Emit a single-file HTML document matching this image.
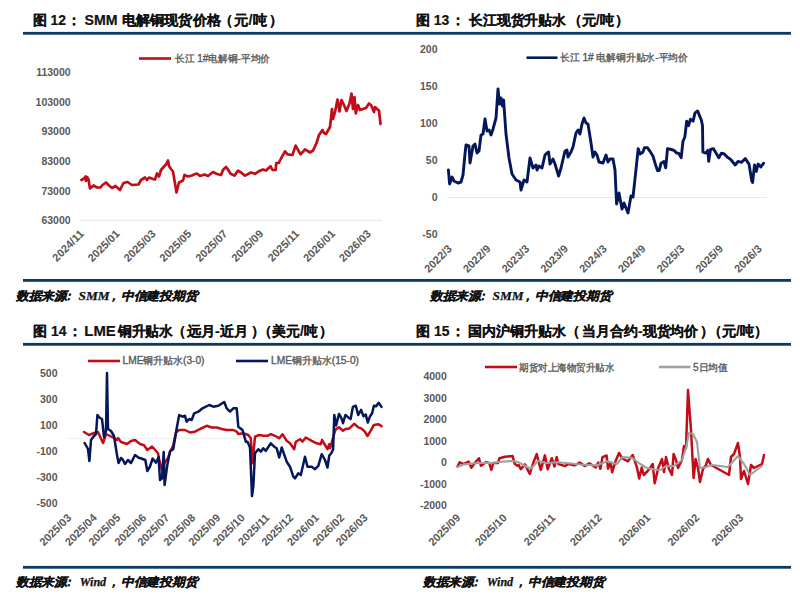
<!DOCTYPE html><html><head><meta charset="utf-8"><style>html,body{margin:0;padding:0;background:#fff;width:800px;height:601px;overflow:hidden}svg{display:block}</style></head><body><svg width="800" height="601" viewBox="0 0 800 601">
<rect width="800" height="601" fill="#fff"/>
<rect x="23" y="31.9" width="768" height="2.8" fill="#0d3964"/>
<rect x="23" y="279.0" width="768" height="2.8" fill="#0d3964"/>
<rect x="23" y="342.90000000000003" width="768" height="2.8" fill="#0d3964"/>
<rect x="23" y="565.9" width="768" height="2.8" fill="#0d3964"/>
<text y="25.1" font-size="14" fill="#111" font-weight="bold" font-family='"Liberation Sans", sans-serif' stroke="#111" stroke-width="0.2"><tspan x="32.7" textLength="14" lengthAdjust="spacingAndGlyphs">图</tspan><tspan x="50.6" textLength="15.5" lengthAdjust="spacingAndGlyphs">12</tspan><tspan x="66.6" textLength="14" lengthAdjust="spacingAndGlyphs">：</tspan><tspan x="84.5" textLength="33" lengthAdjust="spacingAndGlyphs">SMM</tspan><tspan x="121.6" textLength="99.5" lengthAdjust="spacingAndGlyphs">电解铜现货价格</tspan><tspan x="219.3" textLength="14" lengthAdjust="spacingAndGlyphs">（</tspan><tspan x="234.3" textLength="32.5" lengthAdjust="spacingAndGlyphs">元/吨</tspan><tspan x="268.5" textLength="14" lengthAdjust="spacingAndGlyphs">）</tspan></text>
<text y="25.1" font-size="14" fill="#111" font-weight="bold" font-family='"Liberation Sans", sans-serif' stroke="#111" stroke-width="0.2"><tspan x="415.8" textLength="14" lengthAdjust="spacingAndGlyphs">图</tspan><tspan x="433.8" textLength="15.5" lengthAdjust="spacingAndGlyphs">13</tspan><tspan x="450.6" textLength="14" lengthAdjust="spacingAndGlyphs">：</tspan><tspan x="469" textLength="97" lengthAdjust="spacingAndGlyphs">长江现货升贴水</tspan><tspan x="567.6" textLength="14" lengthAdjust="spacingAndGlyphs">（</tspan><tspan x="581.5" textLength="32.5" lengthAdjust="spacingAndGlyphs">元/吨</tspan><tspan x="614.75" textLength="14" lengthAdjust="spacingAndGlyphs">）</tspan></text>
<text y="335.9" font-size="14" fill="#111" font-weight="bold" font-family='"Liberation Sans", sans-serif' stroke="#111" stroke-width="0.2"><tspan x="32.8" textLength="14" lengthAdjust="spacingAndGlyphs">图</tspan><tspan x="51" textLength="15.5" lengthAdjust="spacingAndGlyphs">14</tspan><tspan x="67.5" textLength="14" lengthAdjust="spacingAndGlyphs">：</tspan><tspan x="84.3" textLength="31.5" lengthAdjust="spacingAndGlyphs">LME</tspan><tspan x="117.8" textLength="55" lengthAdjust="spacingAndGlyphs">铜升贴水</tspan><tspan x="172.25" textLength="14" lengthAdjust="spacingAndGlyphs">（</tspan><tspan x="186.5" textLength="62" lengthAdjust="spacingAndGlyphs">远月-近月</tspan><tspan x="250.5" textLength="14" lengthAdjust="spacingAndGlyphs">）</tspan><tspan x="257.6" textLength="14" lengthAdjust="spacingAndGlyphs">（</tspan><tspan x="272.3" textLength="45.5" lengthAdjust="spacingAndGlyphs">美元/吨</tspan><tspan x="318.7" textLength="14" lengthAdjust="spacingAndGlyphs">）</tspan></text>
<text y="335.9" font-size="14" fill="#111" font-weight="bold" font-family='"Liberation Sans", sans-serif' stroke="#111" stroke-width="0.2"><tspan x="416" textLength="14" lengthAdjust="spacingAndGlyphs">图</tspan><tspan x="434" textLength="15.5" lengthAdjust="spacingAndGlyphs">15</tspan><tspan x="450.5" textLength="14" lengthAdjust="spacingAndGlyphs">：</tspan><tspan x="468" textLength="98" lengthAdjust="spacingAndGlyphs">国内沪铜升贴水</tspan><tspan x="566.1" textLength="14" lengthAdjust="spacingAndGlyphs">（</tspan><tspan x="582.3" textLength="116" lengthAdjust="spacingAndGlyphs">当月合约-现货均价</tspan><tspan x="700.35" textLength="14" lengthAdjust="spacingAndGlyphs">）</tspan><tspan x="707.5" textLength="14" lengthAdjust="spacingAndGlyphs">（</tspan><tspan x="721.8" textLength="32.5" lengthAdjust="spacingAndGlyphs">元/吨</tspan><tspan x="754" textLength="14" lengthAdjust="spacingAndGlyphs">）</tspan></text>
<text transform="translate(16,299.5) skewX(-14)" font-size="12" fill="#111" font-weight="bold" font-family='"Liberation Sans", sans-serif' stroke="#111" stroke-width="0.25"><tspan x="0.00" textLength="50.5" lengthAdjust="spacingAndGlyphs">数据来源</tspan><tspan x="47.50" textLength="11" lengthAdjust="spacingAndGlyphs">：</tspan><tspan x="92.00" textLength="11" lengthAdjust="spacingAndGlyphs">，</tspan><tspan x="105.00" textLength="76.5" lengthAdjust="spacingAndGlyphs">中信建投期货</tspan></text><text x="78.5" y="299.5" textLength="31" lengthAdjust="spacingAndGlyphs" font-size="12" fill="#111" font-weight="bold" font-style="italic" font-family='"Liberation Serif", serif' stroke="#111" stroke-width="0.25">SMM</text>
<text transform="translate(430,299.5) skewX(-14)" font-size="12" fill="#111" font-weight="bold" font-family='"Liberation Sans", sans-serif' stroke="#111" stroke-width="0.25"><tspan x="0.00" textLength="50.5" lengthAdjust="spacingAndGlyphs">数据来源</tspan><tspan x="47.50" textLength="11" lengthAdjust="spacingAndGlyphs">：</tspan><tspan x="92.00" textLength="11" lengthAdjust="spacingAndGlyphs">，</tspan><tspan x="105.00" textLength="76.5" lengthAdjust="spacingAndGlyphs">中信建投期货</tspan></text><text x="492.5" y="299.5" textLength="31" lengthAdjust="spacingAndGlyphs" font-size="12" fill="#111" font-weight="bold" font-style="italic" font-family='"Liberation Serif", serif' stroke="#111" stroke-width="0.25">SMM</text>
<text transform="translate(16,585.5) skewX(-14)" font-size="12" fill="#111" font-weight="bold" font-family='"Liberation Sans", sans-serif' stroke="#111" stroke-width="0.25"><tspan x="0.00" textLength="50.5" lengthAdjust="spacingAndGlyphs">数据来源</tspan><tspan x="47.50" textLength="11" lengthAdjust="spacingAndGlyphs">：</tspan><tspan x="92.00" textLength="11" lengthAdjust="spacingAndGlyphs">，</tspan><tspan x="105.00" textLength="76.5" lengthAdjust="spacingAndGlyphs">中信建投期货</tspan></text><text x="79.7" y="585.5" textLength="26.5" lengthAdjust="spacingAndGlyphs" font-size="12" fill="#111" font-weight="bold" font-style="italic" font-family='"Liberation Serif", serif' stroke="#111" stroke-width="0.25">Wind</text>
<text transform="translate(423,585.5) skewX(-14)" font-size="12" fill="#111" font-weight="bold" font-family='"Liberation Sans", sans-serif' stroke="#111" stroke-width="0.25"><tspan x="0.00" textLength="50.5" lengthAdjust="spacingAndGlyphs">数据来源</tspan><tspan x="47.50" textLength="11" lengthAdjust="spacingAndGlyphs">：</tspan><tspan x="92.00" textLength="11" lengthAdjust="spacingAndGlyphs">，</tspan><tspan x="105.00" textLength="76.5" lengthAdjust="spacingAndGlyphs">中信建投期货</tspan></text><text x="486.7" y="585.5" textLength="26.5" lengthAdjust="spacingAndGlyphs" font-size="12" fill="#111" font-weight="bold" font-style="italic" font-family='"Liberation Serif", serif' stroke="#111" stroke-width="0.25">Wind</text>
<text x="70.6" y="75.89999999999999" font-size="10.5" fill="#595959" text-anchor="end" font-weight="bold" font-style="normal" font-family='"Liberation Sans", sans-serif' >113000</text>
<text x="70.6" y="105.6" font-size="10.5" fill="#595959" text-anchor="end" font-weight="bold" font-style="normal" font-family='"Liberation Sans", sans-serif' >103000</text>
<text x="70.6" y="135.3" font-size="10.5" fill="#595959" text-anchor="end" font-weight="bold" font-style="normal" font-family='"Liberation Sans", sans-serif' >93000</text>
<text x="70.6" y="165.0" font-size="10.5" fill="#595959" text-anchor="end" font-weight="bold" font-style="normal" font-family='"Liberation Sans", sans-serif' >83000</text>
<text x="70.6" y="194.7" font-size="10.5" fill="#595959" text-anchor="end" font-weight="bold" font-style="normal" font-family='"Liberation Sans", sans-serif' >73000</text>
<text x="70.6" y="224.4" font-size="10.5" fill="#595959" text-anchor="end" font-weight="bold" font-style="normal" font-family='"Liberation Sans", sans-serif' >63000</text>
<line x1="80.5" y1="220.3" x2="382.5" y2="220.3" stroke="#e3e3e3" stroke-width="1"/>
<text transform="translate(84.5,234.5) rotate(-45)" x="0" y="0" font-size="11" fill="#595959" text-anchor="end" font-weight="bold" font-family='"Liberation Sans", sans-serif'>2024/11</text>
<text transform="translate(120.4,234.5) rotate(-45)" x="0" y="0" font-size="11" fill="#595959" text-anchor="end" font-weight="bold" font-family='"Liberation Sans", sans-serif'>2025/01</text>
<text transform="translate(156.3,234.5) rotate(-45)" x="0" y="0" font-size="11" fill="#595959" text-anchor="end" font-weight="bold" font-family='"Liberation Sans", sans-serif'>2025/03</text>
<text transform="translate(192.2,234.5) rotate(-45)" x="0" y="0" font-size="11" fill="#595959" text-anchor="end" font-weight="bold" font-family='"Liberation Sans", sans-serif'>2025/05</text>
<text transform="translate(228.1,234.5) rotate(-45)" x="0" y="0" font-size="11" fill="#595959" text-anchor="end" font-weight="bold" font-family='"Liberation Sans", sans-serif'>2025/07</text>
<text transform="translate(264.0,234.5) rotate(-45)" x="0" y="0" font-size="11" fill="#595959" text-anchor="end" font-weight="bold" font-family='"Liberation Sans", sans-serif'>2025/09</text>
<text transform="translate(299.9,234.5) rotate(-45)" x="0" y="0" font-size="11" fill="#595959" text-anchor="end" font-weight="bold" font-family='"Liberation Sans", sans-serif'>2025/11</text>
<text transform="translate(335.79999999999995,234.5) rotate(-45)" x="0" y="0" font-size="11" fill="#595959" text-anchor="end" font-weight="bold" font-family='"Liberation Sans", sans-serif'>2026/01</text>
<text transform="translate(371.7,234.5) rotate(-45)" x="0" y="0" font-size="11" fill="#595959" text-anchor="end" font-weight="bold" font-family='"Liberation Sans", sans-serif'>2026/03</text>
<line x1="139" y1="58.5" x2="171" y2="58.5" stroke="#c20c18" stroke-width="2.6"/>
<text x="175" y="62" font-size="10.3" fill="#595959" text-anchor="start" font-weight="normal" font-style="normal" font-family='"Liberation Sans", sans-serif' textLength="95" lengthAdjust="spacingAndGlyphs" stroke="#595959" stroke-width="0.35">长江 1#电解铜-平均价</text>
<polyline points="81.5,180 84,178.5 85.5,176.5 86,181 87,177 88.5,179.5 90,188.5 93.5,185.5 97,187.5 100.5,187.5 102.5,185 106,182.5 109,185.5 112,188 115.5,186 120,190 123.5,183 127.5,182 132,185 138.5,184.5 141,180 145,177.5 147,180 149,177.5 153,179 155,179.5 157,173.5 159,176.5 161,170 164.5,166 166,164.5 168,160.5 169,166 171,169 173,171.5 176.5,192.5 179,182.5 183,180.5 184.5,175 188,176.5 192,175.5 194,174.5 197,173.5 200,176 204.5,174.5 208,176 213,172 217,174 221,175 223,170 226,167 227.5,168.8 230.6,173.8 234.4,175.6 238,170.6 241,172.5 245,175.6 251,172.5 255,173.8 258.8,171.3 263,169.4 266,170.6 270.6,166.3 272.5,170 275.6,170 276.3,163 278.8,163 281.3,158 285,151.3 287.5,154.4 292.5,155 295.6,145.6 300.6,154.4 305,149.4 310,152.5 313,150.6 316.5,143 319,135 322.5,130 324,133 326,134 330,127 332,109 333,119 335,112 337.5,99.5 339.5,111.5 341.5,100 344,105 346.5,111 349.5,103.5 351.5,93.5 353,109 354.5,97 355.8,113.5 358,105 360,110 366,108 369,103.5 371,105 374,112 375,107 377,109 379,110.5 380.5,124" fill="none" stroke="#c20c18" stroke-width="2.7" stroke-linejoin="round" stroke-linecap="round"/>
<text x="437.5" y="53.1" font-size="10.5" fill="#595959" text-anchor="end" font-weight="bold" font-style="normal" font-family='"Liberation Sans", sans-serif' >200</text>
<text x="437.5" y="90.1" font-size="10.5" fill="#595959" text-anchor="end" font-weight="bold" font-style="normal" font-family='"Liberation Sans", sans-serif' >150</text>
<text x="437.5" y="127.1" font-size="10.5" fill="#595959" text-anchor="end" font-weight="bold" font-style="normal" font-family='"Liberation Sans", sans-serif' >100</text>
<text x="437.5" y="164.1" font-size="10.5" fill="#595959" text-anchor="end" font-weight="bold" font-style="normal" font-family='"Liberation Sans", sans-serif' >50</text>
<text x="437.5" y="201.1" font-size="10.5" fill="#595959" text-anchor="end" font-weight="bold" font-style="normal" font-family='"Liberation Sans", sans-serif' >0</text>
<text x="437.5" y="238.1" font-size="10.5" fill="#595959" text-anchor="end" font-weight="bold" font-style="normal" font-family='"Liberation Sans", sans-serif' >-50</text>
<line x1="447.5" y1="197.5" x2="767" y2="197.5" stroke="#e6e6e6" stroke-width="1"/>
<text transform="translate(452.5,249.5) rotate(-45)" x="0" y="0" font-size="11" fill="#595959" text-anchor="end" font-weight="bold" font-family='"Liberation Sans", sans-serif'>2022/3</text>
<text transform="translate(491.25,249.5) rotate(-45)" x="0" y="0" font-size="11" fill="#595959" text-anchor="end" font-weight="bold" font-family='"Liberation Sans", sans-serif'>2022/9</text>
<text transform="translate(530.0,249.5) rotate(-45)" x="0" y="0" font-size="11" fill="#595959" text-anchor="end" font-weight="bold" font-family='"Liberation Sans", sans-serif'>2023/3</text>
<text transform="translate(568.75,249.5) rotate(-45)" x="0" y="0" font-size="11" fill="#595959" text-anchor="end" font-weight="bold" font-family='"Liberation Sans", sans-serif'>2023/9</text>
<text transform="translate(607.5,249.5) rotate(-45)" x="0" y="0" font-size="11" fill="#595959" text-anchor="end" font-weight="bold" font-family='"Liberation Sans", sans-serif'>2024/3</text>
<text transform="translate(646.25,249.5) rotate(-45)" x="0" y="0" font-size="11" fill="#595959" text-anchor="end" font-weight="bold" font-family='"Liberation Sans", sans-serif'>2024/9</text>
<text transform="translate(685.0,249.5) rotate(-45)" x="0" y="0" font-size="11" fill="#595959" text-anchor="end" font-weight="bold" font-family='"Liberation Sans", sans-serif'>2025/3</text>
<text transform="translate(723.75,249.5) rotate(-45)" x="0" y="0" font-size="11" fill="#595959" text-anchor="end" font-weight="bold" font-family='"Liberation Sans", sans-serif'>2025/9</text>
<text transform="translate(762.5,249.5) rotate(-45)" x="0" y="0" font-size="11" fill="#595959" text-anchor="end" font-weight="bold" font-family='"Liberation Sans", sans-serif'>2026/3</text>
<line x1="526.5" y1="57.7" x2="557.5" y2="57.7" stroke="#04175a" stroke-width="2.6"/>
<text x="560" y="61" font-size="10.3" fill="#595959" text-anchor="start" font-weight="normal" font-style="normal" font-family='"Liberation Sans", sans-serif' textLength="128" lengthAdjust="spacingAndGlyphs" stroke="#595959" stroke-width="0.35">长江 1# 电解铜升贴水-平均价</text>
<polyline points="448.4,170 449.6,184 452,177 454,181 458,183 461,182 463,175 465,154 466,145 469,146 470,163 473,146 475,144 477,153 479,151 481,135 483,134 485,119 487,131 489,130 491,135 493,129 496,118 498,89 499.6,104 501,98 502.4,106 503.6,100 506,134 509,158 512,174 516,180 520,182 521,190 524,180 527,182 530,158 533,168 536,165 537,170 539,166 542,168 545,155 547,153 548.6,152 550,164 553,159 555,164 558.6,176 561,168 565,151 567,150 568,157 571,152 573,147 576,133 578,130 580,134 582,124 584,118 586,123 588,124 591,143 593,157 595,152 597,155 599,162 603,163 606,155 608,162 610,159 613,159 615,170 616.6,204 619,193 622,209 624,203 628,213 631,196 633,197 635.5,174.2 638.2,148.6 640,154 642.8,152.2 644.6,147.6 647.4,147.6 650,151.3 652.9,155.9 655.6,165 657.5,170.5 659.3,170.5 661,163.2 663.9,161.4 665.7,167.8 667.5,148.6 671.2,149.5 674,150.4 676.7,153.1 678.5,153.1 681.2,157.7 683,141.2 684.9,136.7 686.7,121.1 688.6,125.7 690.4,119.3 693.1,121.1 695,112.9 697.7,111 699.5,115.6 701.4,120.2 702.5,125.7 702.9,152.2 706,153.1 707.8,150.4 708.7,161.4 710.5,149.5 713.3,148.6 716,153.1 718.8,157.7 721.5,153.1 724.3,154 727,156.8 730.7,159.5 735.2,165 738,161.4 741.6,162.3 745.3,158.6 749,164.1 751.7,180.6 752.6,182.4 754.5,165 756.3,171.4 758.1,164.1 760.9,166.9 763.6,163.2" fill="none" stroke="#04175a" stroke-width="2.9" stroke-linejoin="round" stroke-linecap="round"/>
<text x="57.5" y="376.70000000000005" font-size="10.5" fill="#595959" text-anchor="end" font-weight="bold" font-style="normal" font-family='"Liberation Sans", sans-serif' >500</text>
<text x="57.5" y="402.80000000000007" font-size="10.5" fill="#595959" text-anchor="end" font-weight="bold" font-style="normal" font-family='"Liberation Sans", sans-serif' >300</text>
<text x="57.5" y="428.90000000000003" font-size="10.5" fill="#595959" text-anchor="end" font-weight="bold" font-style="normal" font-family='"Liberation Sans", sans-serif' >100</text>
<text x="57.5" y="455.00000000000006" font-size="10.5" fill="#595959" text-anchor="end" font-weight="bold" font-style="normal" font-family='"Liberation Sans", sans-serif' >-100</text>
<text x="57.5" y="481.1" font-size="10.5" fill="#595959" text-anchor="end" font-weight="bold" font-style="normal" font-family='"Liberation Sans", sans-serif' >-300</text>
<text x="57.5" y="507.20000000000005" font-size="10.5" fill="#595959" text-anchor="end" font-weight="bold" font-style="normal" font-family='"Liberation Sans", sans-serif' >-500</text>
<line x1="68" y1="438.6" x2="382" y2="438.6" stroke="#ededed" stroke-width="1"/>
<text transform="translate(72,518.5) rotate(-45)" x="0" y="0" font-size="11" fill="#595959" text-anchor="end" font-weight="bold" font-family='"Liberation Sans", sans-serif'>2025/03</text>
<text transform="translate(97.5,518.5) rotate(-45)" x="0" y="0" font-size="11" fill="#595959" text-anchor="end" font-weight="bold" font-family='"Liberation Sans", sans-serif'>2025/04</text>
<text transform="translate(121,518.5) rotate(-45)" x="0" y="0" font-size="11" fill="#595959" text-anchor="end" font-weight="bold" font-family='"Liberation Sans", sans-serif'>2025/05</text>
<text transform="translate(147,518.5) rotate(-45)" x="0" y="0" font-size="11" fill="#595959" text-anchor="end" font-weight="bold" font-family='"Liberation Sans", sans-serif'>2025/06</text>
<text transform="translate(170,518.5) rotate(-45)" x="0" y="0" font-size="11" fill="#595959" text-anchor="end" font-weight="bold" font-family='"Liberation Sans", sans-serif'>2025/07</text>
<text transform="translate(196,518.5) rotate(-45)" x="0" y="0" font-size="11" fill="#595959" text-anchor="end" font-weight="bold" font-family='"Liberation Sans", sans-serif'>2025/08</text>
<text transform="translate(221,518.5) rotate(-45)" x="0" y="0" font-size="11" fill="#595959" text-anchor="end" font-weight="bold" font-family='"Liberation Sans", sans-serif'>2025/09</text>
<text transform="translate(245.5,518.5) rotate(-45)" x="0" y="0" font-size="11" fill="#595959" text-anchor="end" font-weight="bold" font-family='"Liberation Sans", sans-serif'>2025/10</text>
<text transform="translate(270.2,518.5) rotate(-45)" x="0" y="0" font-size="11" fill="#595959" text-anchor="end" font-weight="bold" font-family='"Liberation Sans", sans-serif'>2025/11</text>
<text transform="translate(294,518.5) rotate(-45)" x="0" y="0" font-size="11" fill="#595959" text-anchor="end" font-weight="bold" font-family='"Liberation Sans", sans-serif'>2025/12</text>
<text transform="translate(319.7,518.5) rotate(-45)" x="0" y="0" font-size="11" fill="#595959" text-anchor="end" font-weight="bold" font-family='"Liberation Sans", sans-serif'>2026/01</text>
<text transform="translate(345,518.5) rotate(-45)" x="0" y="0" font-size="11" fill="#595959" text-anchor="end" font-weight="bold" font-family='"Liberation Sans", sans-serif'>2026/02</text>
<text transform="translate(368.4,518.5) rotate(-45)" x="0" y="0" font-size="11" fill="#595959" text-anchor="end" font-weight="bold" font-family='"Liberation Sans", sans-serif'>2026/03</text>
<line x1="88" y1="361" x2="120" y2="361" stroke="#c20c18" stroke-width="2.6"/>
<text x="122.5" y="364.3" font-size="10.3" fill="#595959" text-anchor="start" font-weight="normal" font-style="normal" font-family='"Liberation Sans", sans-serif' textLength="82" lengthAdjust="spacingAndGlyphs" stroke="#595959" stroke-width="0.35">LME铜升贴水(3-0)</text>
<line x1="236" y1="361" x2="268" y2="361" stroke="#04175a" stroke-width="2.6"/>
<text x="271" y="364.3" font-size="10.3" fill="#595959" text-anchor="start" font-weight="normal" font-style="normal" font-family='"Liberation Sans", sans-serif' textLength="88" lengthAdjust="spacingAndGlyphs" stroke="#595959" stroke-width="0.35">LME铜升贴水(15-0)</text>
<polyline points="84,432 89,435 94,433 98,432 103,443 106,434 110,436 114,438 117,440 118,438 121,442 127,444 131,441 135,440 140,444 144,445.3 147.3,450 152,446.6 155.3,450 158,453.2 159.3,460 162,470 165,462 168,458 170.6,450.6 173,446 176,432.6 179,430 185,430 190,432.5 195,431.7 200,429 206.7,425.8 211.7,427.5 216.7,427.5 221.7,429 226.7,430 233.3,430 236.7,431.7 238.3,434 243.3,433.3 248.3,435 250.8,438.3 252.5,463.3 255,436.7 259.2,435 263.3,435.8 267.5,435.8 270.8,434.2 275,435.8 279.2,438.3 282.5,434.2 286.7,440.8 290,443.3 294.2,449.2 295.8,441.7 300,439.2 302.5,441.7 305.8,437.5 311.7,440.8 316.7,443.3 320.8,444.2 322,440 325,445 327.5,449.2 329.2,444.2 330.2,448.2 333.7,435.4 335.5,429.6 339,427.3 343,430.7 345.4,429 349.4,428.4 354.1,423.8 358.2,427.3 361.1,428.4 364.6,431.3 367.5,436 371,430.2 373.9,424.9 378.6,424.3 381.5,426.1" fill="none" stroke="#c20c18" stroke-width="2.5" stroke-linejoin="round" stroke-linecap="round"/>
<polyline points="84.6,443 88,449 89.4,461 91,440 94,436 96,434 97.4,415 100,418 102,419 104,437 106,431 107,373 108,429 111,431 114,436 117,455 118.6,463 121,458 123,460 125,464 128,460 131,463 135,455 139,458 140,458 145.3,460 147.3,471 150,466.5 152.6,458.6 156,462.6 158.6,457.2 160,480 162,478.5 163.7,452 164.6,485 167.3,465 170,451.3 173.2,449.3 176.7,428.3 179.2,415 182.5,416.7 185,415.8 186.7,421.7 189.2,419 191.7,420 194.2,413.3 198.3,411.7 202.5,408.3 209.2,405 213.3,406.7 218.3,405.8 224.2,402 226.7,408.3 230,411.7 233.3,408.3 236.7,408.3 238.3,426.7 242.5,430 245.8,441.7 247.5,441.7 250,447.5 252,496 253.3,486.7 255,453.3 258.3,449.2 260.8,451.7 263.3,448.3 265.8,450.8 270.8,443.3 274.2,446.7 276.7,448.3 279.2,457.5 281.7,447.5 286.7,461.7 290,466.7 293.3,476.7 295,478.3 298.3,473.3 300.8,475 305,456.7 307.5,466.7 311.7,466.7 315,469.2 318.3,465.8 321.7,454.2 325,460 327.5,467.5 329.2,455.8 331.7,452.5 333.1,449.4 334.3,415 336.1,425.5 339,413.9 341.3,417.9 343,423.2 345.4,415 348.3,417.4 350.6,419.1 352.9,406.9 355.8,405.7 358.2,415 361.1,409.8 363.4,416.2 365.7,414.4 367.8,422.6 369.8,416.8 372.1,413.3 373.9,405.7 376.2,406.3 378.6,402.8 381.5,406.9" fill="none" stroke="#04175a" stroke-width="2.5" stroke-linejoin="round" stroke-linecap="round"/>
<text x="446.8" y="380.1" font-size="10.5" fill="#595959" text-anchor="end" font-weight="bold" font-style="normal" font-family='"Liberation Sans", sans-serif' >4000</text>
<text x="446.8" y="401.6" font-size="10.5" fill="#595959" text-anchor="end" font-weight="bold" font-style="normal" font-family='"Liberation Sans", sans-serif' >3000</text>
<text x="446.8" y="423.1" font-size="10.5" fill="#595959" text-anchor="end" font-weight="bold" font-style="normal" font-family='"Liberation Sans", sans-serif' >2000</text>
<text x="446.8" y="444.6" font-size="10.5" fill="#595959" text-anchor="end" font-weight="bold" font-style="normal" font-family='"Liberation Sans", sans-serif' >1000</text>
<text x="446.8" y="466.1" font-size="10.5" fill="#595959" text-anchor="end" font-weight="bold" font-style="normal" font-family='"Liberation Sans", sans-serif' >0</text>
<text x="446.8" y="487.6" font-size="10.5" fill="#595959" text-anchor="end" font-weight="bold" font-style="normal" font-family='"Liberation Sans", sans-serif' >-1000</text>
<text x="446.8" y="509.1" font-size="10.5" fill="#595959" text-anchor="end" font-weight="bold" font-style="normal" font-family='"Liberation Sans", sans-serif' >-2000</text>
<text transform="translate(461,518.5) rotate(-45)" x="0" y="0" font-size="11" fill="#595959" text-anchor="end" font-weight="bold" font-family='"Liberation Sans", sans-serif'>2025/09</text>
<text transform="translate(507.5,518.5) rotate(-45)" x="0" y="0" font-size="11" fill="#595959" text-anchor="end" font-weight="bold" font-family='"Liberation Sans", sans-serif'>2025/10</text>
<text transform="translate(556,518.5) rotate(-45)" x="0" y="0" font-size="11" fill="#595959" text-anchor="end" font-weight="bold" font-family='"Liberation Sans", sans-serif'>2025/11</text>
<text transform="translate(602.5,518.5) rotate(-45)" x="0" y="0" font-size="11" fill="#595959" text-anchor="end" font-weight="bold" font-family='"Liberation Sans", sans-serif'>2025/12</text>
<text transform="translate(651,518.5) rotate(-45)" x="0" y="0" font-size="11" fill="#595959" text-anchor="end" font-weight="bold" font-family='"Liberation Sans", sans-serif'>2026/01</text>
<text transform="translate(700,518.5) rotate(-45)" x="0" y="0" font-size="11" fill="#595959" text-anchor="end" font-weight="bold" font-family='"Liberation Sans", sans-serif'>2026/02</text>
<text transform="translate(744,518.5) rotate(-45)" x="0" y="0" font-size="11" fill="#595959" text-anchor="end" font-weight="bold" font-family='"Liberation Sans", sans-serif'>2026/03</text>
<line x1="485" y1="367" x2="517" y2="367" stroke="#c20c18" stroke-width="2.6"/>
<text x="519" y="371" font-size="10.3" fill="#595959" text-anchor="start" font-weight="normal" font-style="normal" font-family='"Liberation Sans", sans-serif' textLength="95" lengthAdjust="spacingAndGlyphs" stroke="#595959" stroke-width="0.35">期货对上海物贸升贴水</text>
<line x1="659" y1="367" x2="690.5" y2="367" stroke="#a0a0a0" stroke-width="2.6"/>
<text x="693" y="371" font-size="10.3" fill="#595959" text-anchor="start" font-weight="normal" font-style="normal" font-family='"Liberation Sans", sans-serif' textLength="35" lengthAdjust="spacingAndGlyphs" stroke="#595959" stroke-width="0.35">5日均值</text>
<polyline points="457.6,466.5 459.6,462.3 462.4,463.7 464.4,463.7 468.6,461.6 471.3,467.8 475.4,462.3 478.9,458.2 481,465.8 485.8,462.3 489.2,463 491.3,469.9 493.3,463 498.1,463 499.5,458.2 505,456.8 512.6,456.1 514.6,463.7 517.4,465.8 518.8,465.1 520.8,469.2 525,464.4 529.8,474 533.2,463 536.7,454.1 540.8,469.9 544.9,455.4 547.7,469.2 551.8,458.2 554.5,466.5 556.7,457.1 558.4,464 565.3,466.1 568,464 574.3,465.4 579.8,462.6 584.6,466.1 589.4,463.3 595.6,467.5 598.3,462.6 600.4,468.8 602.5,457.1 606.6,455.5 608,468.8 610.7,462.6 612.1,472.3 615.5,461.3 619,453 622.4,458.5 627.9,461.3 632.7,455.1 636.8,466.8 639.2,478.5 641.7,467.5 643.7,475 647.8,470.9 652.7,464 654.7,483.3 658.2,468.1 662,459 664,472 666,457 669,469 672,475 673.6,454 676,460 678,468 682,460 684,446 686,448 688,390 691,430 693.6,478 695.6,459 698,468 700,482 703,469 706,465 708,459 711,465 729,475 731,457 734,454 738,443 740,457 741,479 744,471 748,484 751,465 754,468 762,464 764,455" fill="none" stroke="#c20c18" stroke-width="2.5" stroke-linejoin="round" stroke-linecap="round"/>
<polyline points="457.6,467 463.8,464.4 477.5,463 491.3,463 499.5,462 512,461 518.8,462.3 527,467 531,468.5 538,461 546.3,463 557.3,462.3 568.8,463.3 582.5,464.7 596.3,465.4 607.3,461.3 616.9,464 622.4,457.1 632,457.8 640.3,464 645.8,467.5 654,469.5 660,470 666,466 674,466 682,460 686,448 689,433 693,434 697,442 700,468 706,467 712,465 728,467 738,456 744,464 750,475 762,466" fill="none" stroke="#a0a0a0" stroke-width="2.1" stroke-linejoin="round" stroke-linecap="round"/>
</svg></body></html>
